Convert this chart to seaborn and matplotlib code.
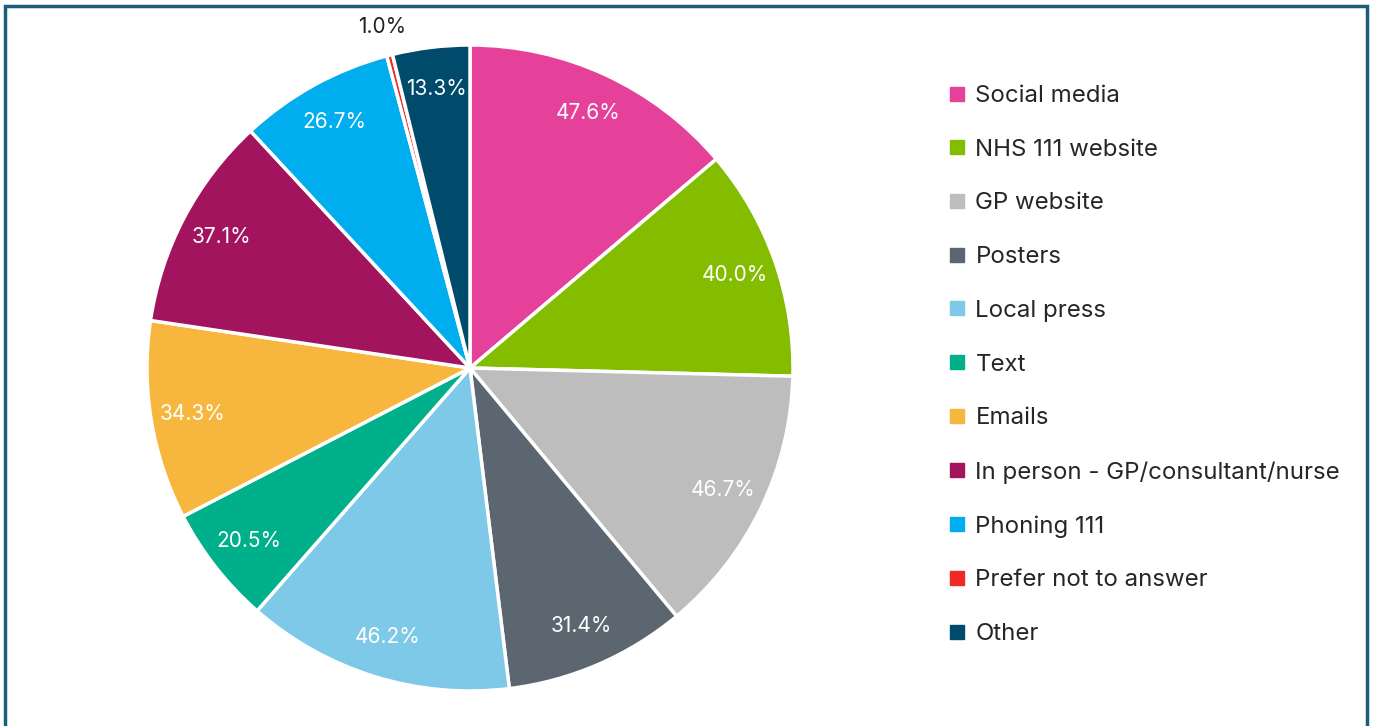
import matplotlib.pyplot as plt
import seaborn as sns
from matplotlib.lines import Line2D
from matplotlib.patches import Rectangle

categories = ["Social media", "NHS 111 website", "GP website", "Posters", "Local press", "Text",
              "Emails", "In person - GP/consultant/nurse", "Phoning 111", "Prefer not to answer", "Other"]
values = [47.6, 40.0, 46.7, 31.4, 46.2, 20.5, 34.3, 37.1, 26.7, 1.0, 13.3]
colors = ["#E5409A", "#84BD00", "#BDBDBD", "#5B6670", "#7FC9E8", "#00B08A",
          "#F7B73F", "#A3145E", "#00AEEF", "#EE2A24", "#004B6B"]

sns.set_theme(style="white")
plt.rcParams['font.family'] = ['Inter', 'DejaVu Sans']

W, H = 1373, 726
fig = plt.figure(figsize=(W / 100, H / 100), dpi=100)
fig.patch.set_facecolor("white")

# frame round the chart (cut at the bottom like the source)
fig.add_artist(Rectangle((5 / W, -0.05), (1367 - 5) / W, (H - 5) / H + 0.05 - 0.002,
                         transform=fig.transFigure, fill=False, edgecolor="#1B5E7A", linewidth=2.5))

cx, cy, r = 470, 368, 323
ax = fig.add_axes([(cx - r) / W, (H - cy - r) / H, 2 * r / W, 2 * r / H])
wedges, texts, autotexts = ax.pie(values, colors=colors, startangle=90, counterclock=False,
                                  radius=1, autopct="%1.1f%%", pctdistance=0.87,
                                  wedgeprops=dict(edgecolor="white", linewidth=2.5),
                                  textprops=dict(color="white", fontsize=15))
ax.set_xlim(-1, 1)
ax.set_ylim(-1, 1)
ax.set_aspect("equal")

# use the data values as the label text
for t, v in zip(autotexts, values):
    t.set_text(f"{v:.1f}%")
small = values.index(1.0)
x, y = autotexts[small].get_position()
autotexts[small].set_position((x * 1.09 / 0.87, y * 1.09 / 0.87))
autotexts[small].set_color("#222222")

handles = [Line2D([0], [0], marker="s", linestyle="none", markersize=10,
                  markerfacecolor=c, markeredgecolor=c) for c in colors]
fig.legend(handles, categories, loc="upper left", bbox_to_anchor=(937 / W, 1 - 73 / H),
           frameon=False, fontsize=17.3, labelspacing=1.32, handlelength=0.7,
           handletextpad=0.4, borderpad=0)

fig.savefig("out.png", dpi=100)
